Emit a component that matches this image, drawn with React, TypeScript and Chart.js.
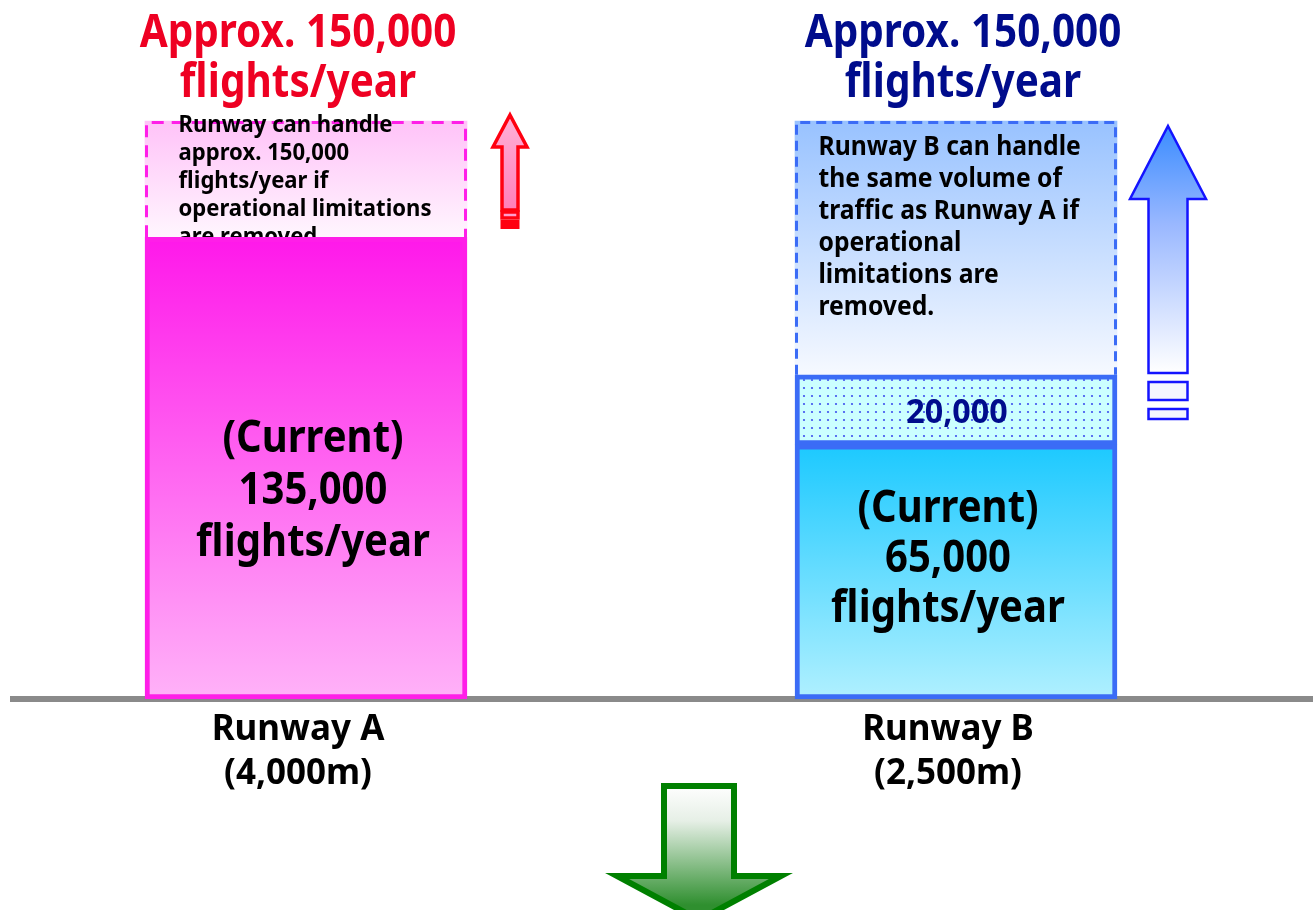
import React, { useEffect, useRef } from "react";
import { Chart, registerables } from "chart.js";

Chart.register(...registerables);

// ---- data (bar heights as drawn in the picture, in thousand flights of its own scale) ----
const runwayLabels = [["Runway A", "(4,000m)"], ["Runway B", "(2,500m)"]];
const currentFlights = [135, 74.3];
const addedFlights = [null, 20.5];
const headroomFlights = [34, 74.2];
const yMax = 169;

const titleLines = ["Approx. 150,000", "flights/year"];
const currentTextA = ["(Current)", "135,000", "flights/year"];
const currentTextB = ["(Current)", "65,000", "flights/year"];
const addedText = "20,000";
const noteA = [
  "Runway can handle",
  "approx. 150,000",
  "flights/year if",
  "operational limitations",
  "are removed.",
];
const noteB = [
  "Runway B can handle",
  "the same volume of",
  "traffic as Runway A if",
  "operational",
  "limitations are",
  "removed.",
];

const FONT = "'Noto Sans', 'Open Sans', 'DejaVu Sans', sans-serif";
const RED = "#ee0022";
const NAVY = "#000c8c";
const MAGENTA = "#ff1ee8";
const BLUE = "#3b6cf6";

function txt(ctx: CanvasRenderingContext2D, s: string, x: number, y: number, size: number, color: string, align: CanvasTextAlign = "center", sx = 0.88) {
  ctx.save();
  ctx.font = `bold ${size}px ${FONT}`;
  ctx.fillStyle = color;
  ctx.textAlign = align;
  ctx.textBaseline = "alphabetic";
  ctx.translate(x, y);
  ctx.scale(sx, 1);
  ctx.fillText(s, 0, 0);
  ctx.restore();
}

function stackRange(chart: any, datasetIndex: number, dataIndex: number) {
  let start = 0;
  for (let d = 0; d < datasetIndex; d++) start += chart.data.datasets[d].data[dataIndex] || 0;
  const end = start + (chart.data.datasets[datasetIndex].data[dataIndex] || 0);
  return [start, end];
}

function vGrad(colorsA: string[], colorsB: string[]) {
  return (c: any) => {
    const chart = c.chart;
    const cols = c.dataIndex === 0 ? colorsA : colorsB;
    const ys = chart.scales && chart.scales.y;
    if (!ys || !chart.chartArea || c.datasetIndex === undefined) return cols[0];
    const [s, e] = stackRange(chart, c.datasetIndex, c.dataIndex);
    const g = chart.ctx.createLinearGradient(0, ys.getPixelForValue(e), 0, ys.getPixelForValue(s));
    g.addColorStop(0, cols[0]);
    g.addColorStop(1, cols[1]);
    return g;
  };
}

function dotPattern(): CanvasPattern | string {
  const p = document.createElement("canvas");
  p.width = 8;
  p.height = 8;
  const pc = p.getContext("2d");
  if (!pc) return "#ccffff";
  pc.fillStyle = "#ccffff";
  pc.fillRect(0, 0, 8, 8);
  pc.fillStyle = "#3f50ee";
  pc.beginPath();
  pc.arc(4, 4, 1.1, 0, Math.PI * 2);
  pc.fill();
  const pat = pc.createPattern(p, "repeat");
  return pat || "#ccffff";
}

function arrowUp(ctx: CanvasRenderingContext2D, cx: number, tip: number, headBase: number, headHalf: number, shaftHalf: number, shaftBottom: number) {
  ctx.beginPath();
  ctx.moveTo(cx, tip);
  ctx.lineTo(cx + headHalf, headBase);
  ctx.lineTo(cx + shaftHalf, headBase);
  ctx.lineTo(cx + shaftHalf, shaftBottom);
  ctx.lineTo(cx - shaftHalf, shaftBottom);
  ctx.lineTo(cx - shaftHalf, headBase);
  ctx.lineTo(cx - headHalf, headBase);
  ctx.closePath();
}

const decorPlugin = {
  id: "decor",
  beforeDatasetsDraw(chart: any) {
    const ctx = chart.ctx as CanvasRenderingContext2D;
    const base = chart.scales.y.getPixelForValue(0);
    ctx.save();
    ctx.fillStyle = "#8a8a8a";
    ctx.fillRect(10, base - 3, chart.width - 10, 6);
    ctx.restore();
  },
  afterDatasetDraw(chart: any, args: any) {
    if (args.index !== 2) return;
    const ctx = chart.ctx as CanvasRenderingContext2D;
    const meta = chart.getDatasetMeta(2);
    meta.data.forEach((el: any, i: number) => {
      const { x, y, base, width } = el.getProps(["x", "y", "base", "width"], true);
      const l = x - width / 2 + 1.5;
      const r = x + width / 2 - 1.5;
      const t = y + 1.5;
      ctx.save();
      ctx.strokeStyle = i === 0 ? MAGENTA : BLUE;
      ctx.lineWidth = 3;
      ctx.setLineDash(i === 0 ? [12, 8] : [10, 6]);
      ctx.beginPath();
      ctx.moveTo(l, base);
      ctx.lineTo(l, t);
      ctx.lineTo(r, t);
      ctx.lineTo(r, base);
      ctx.stroke();
      ctx.restore();
      if (i === 0) {
        noteA.forEach((s, k) => txt(ctx, s, l + 32, y + 11 + k * 28, 24, "#000", "left", 0.92));
      } else {
        noteB.forEach((s, k) => txt(ctx, s, l + 22, y + 34 + k * 32, 26, "#000", "left", 0.95));
      }
    });
  },
  afterDraw(chart: any) {
    const ctx = chart.ctx as CanvasRenderingContext2D;
    const cur = chart.getDatasetMeta(0).data;
    const add = chart.getDatasetMeta(1).data;
    const a = cur[0];
    const b = cur[1];
    // titles
    txt(ctx, titleLines[0], a.x - 8, 47, 46, RED);
    txt(ctx, titleLines[1], a.x - 8, 97, 46, RED);
    txt(ctx, titleLines[0], b.x + 7, 47, 46, NAVY);
    txt(ctx, titleLines[1], b.x + 7, 97, 46, NAVY);
    // current labels
    currentTextA.forEach((s, k) => txt(ctx, s, a.x + 7, 452 + k * 52, 45, "#000", "center", 0.89));
    currentTextB.forEach((s, k) => txt(ctx, s, b.x - 8, 522 + k * 50, 45, "#000", "center", 0.89));
    // added label
    const ab = add[1];
    txt(ctx, addedText, ab.x + 1, (ab.y + ab.base) / 2 + 13, 34, NAVY, "center", 0.95);

    // red arrow beside runway A
    const rx = a.x + a.width / 2 + 43;
    ctx.save();
    const rg = ctx.createLinearGradient(0, 115, 0, 210);
    rg.addColorStop(0, "#ffb0d6");
    rg.addColorStop(1, "#ff7fba");
    arrowUp(ctx, rx, 115, 147, 17, 8, 210);
    ctx.fillStyle = rg;
    ctx.fill();
    ctx.strokeStyle = "#ff0010";
    ctx.lineWidth = 3.5;
    ctx.lineJoin = "miter";
    ctx.stroke();
    ctx.fillStyle = "#ff9ccc";
    ctx.fillRect(rx - 8, 212, 16, 6);
    ctx.strokeRect(rx - 8, 212, 16, 6);
    ctx.fillStyle = "#ff0010";
    ctx.fillRect(rx - 9.5, 220, 19, 9);
    ctx.restore();

    // blue arrow beside runway B
    const bx = b.x + b.width / 2 + 51;
    ctx.save();
    const bg = ctx.createLinearGradient(0, 126, 0, 373);
    bg.addColorStop(0, "#3a8cff");
    bg.addColorStop(0.4, "#9ab8ff");
    bg.addColorStop(1, "#ffffff");
    arrowUp(ctx, bx, 126, 199, 38, 19.5, 373);
    ctx.fillStyle = bg;
    ctx.fill();
    ctx.strokeStyle = "#1414ff";
    ctx.lineWidth = 2.5;
    ctx.stroke();
    ctx.fillStyle = "#f4f6ff";
    ctx.fillRect(bx - 19.5, 382, 39, 18);
    ctx.strokeRect(bx - 19.5, 382, 39, 18);
    ctx.fillRect(bx - 19.5, 409, 39, 10);
    ctx.strokeRect(bx - 19.5, 409, 39, 10);
    ctx.restore();

    // green down arrow
    const gx = 699;
    ctx.save();
    const gg = ctx.createLinearGradient(0, 785, 0, 905);
    gg.addColorStop(0, "#ffffff");
    gg.addColorStop(0.3, "#e6efe6");
    gg.addColorStop(1, "#2f8f2f");
    ctx.beginPath();
    ctx.moveTo(gx - 35, 786);
    ctx.lineTo(gx + 35, 786);
    ctx.lineTo(gx + 35, 876);
    ctx.lineTo(gx + 82, 876);
    ctx.lineTo(gx, 920);
    ctx.lineTo(gx - 82, 876);
    ctx.lineTo(gx - 35, 876);
    ctx.closePath();
    ctx.fillStyle = gg;
    ctx.fill();
    ctx.strokeStyle = "#008000";
    ctx.lineWidth = 6;
    ctx.stroke();
    ctx.restore();
  },
};

export default function App() {
  const ref = useRef<HTMLCanvasElement | null>(null);
  useEffect(() => {
    document.body.style.margin = "0";
    const canvas = ref.current;
    if (!canvas) return;
    const chart = new Chart(canvas, {
      type: "bar",
      data: {
        labels: runwayLabels as any,
        datasets: [
          {
            label: "Current",
            data: currentFlights,
            backgroundColor: vGrad(["#ff18ea", "#ffb2f8"], ["#1cc9ff", "#b0f0ff"]),
            borderColor: [MAGENTA, BLUE],
            borderWidth: 5,
            borderSkipped: false,
            stack: "s",
          },
          {
            label: "Added",
            data: addedFlights as any,
            backgroundColor: dotPattern() as any,
            borderColor: BLUE,
            borderWidth: 5,
            borderSkipped: false,
            stack: "s",
          },
          {
            label: "Possible",
            data: headroomFlights,
            backgroundColor: vGrad(["#ffc2f8", "#fff6fe"], ["#98c2ff", "#f6f9ff"]),
            borderWidth: 0,
            stack: "s",
          },
        ] as any,
      },
      options: {
        responsive: false,
        animation: false,
        devicePixelRatio: 1,
        clip: false as any,
        barThickness: 322,
        layout: { padding: { left: 306, right: 357, top: 121, bottom: 0 } },
        plugins: { legend: { display: false }, tooltip: { enabled: false } },
        scales: {
          x: {
            type: "category",
            offset: false,
            stacked: true,
            grid: { display: false, drawTicks: false, tickLength: 0 },
            border: { display: false },
            ticks: {
              color: "#000",
              padding: 9,
              maxRotation: 0,
              autoSkip: false,
              labelOffset: -8,
              font: { family: FONT, size: 35, weight: "bold", lineHeight: 1.26 },
            },
            afterFit: (scale: any) => {
              scale.height = 211;
            },
          },
          y: {
            display: false,
            stacked: true,
            min: 0,
            max: yMax,
          },
        },
      } as any,
      plugins: [decorPlugin],
    });
    return () => chart.destroy();
  }, []);
  return <canvas ref={ref} width={1313} height={910} style={{ display: "block" }} />;
}
